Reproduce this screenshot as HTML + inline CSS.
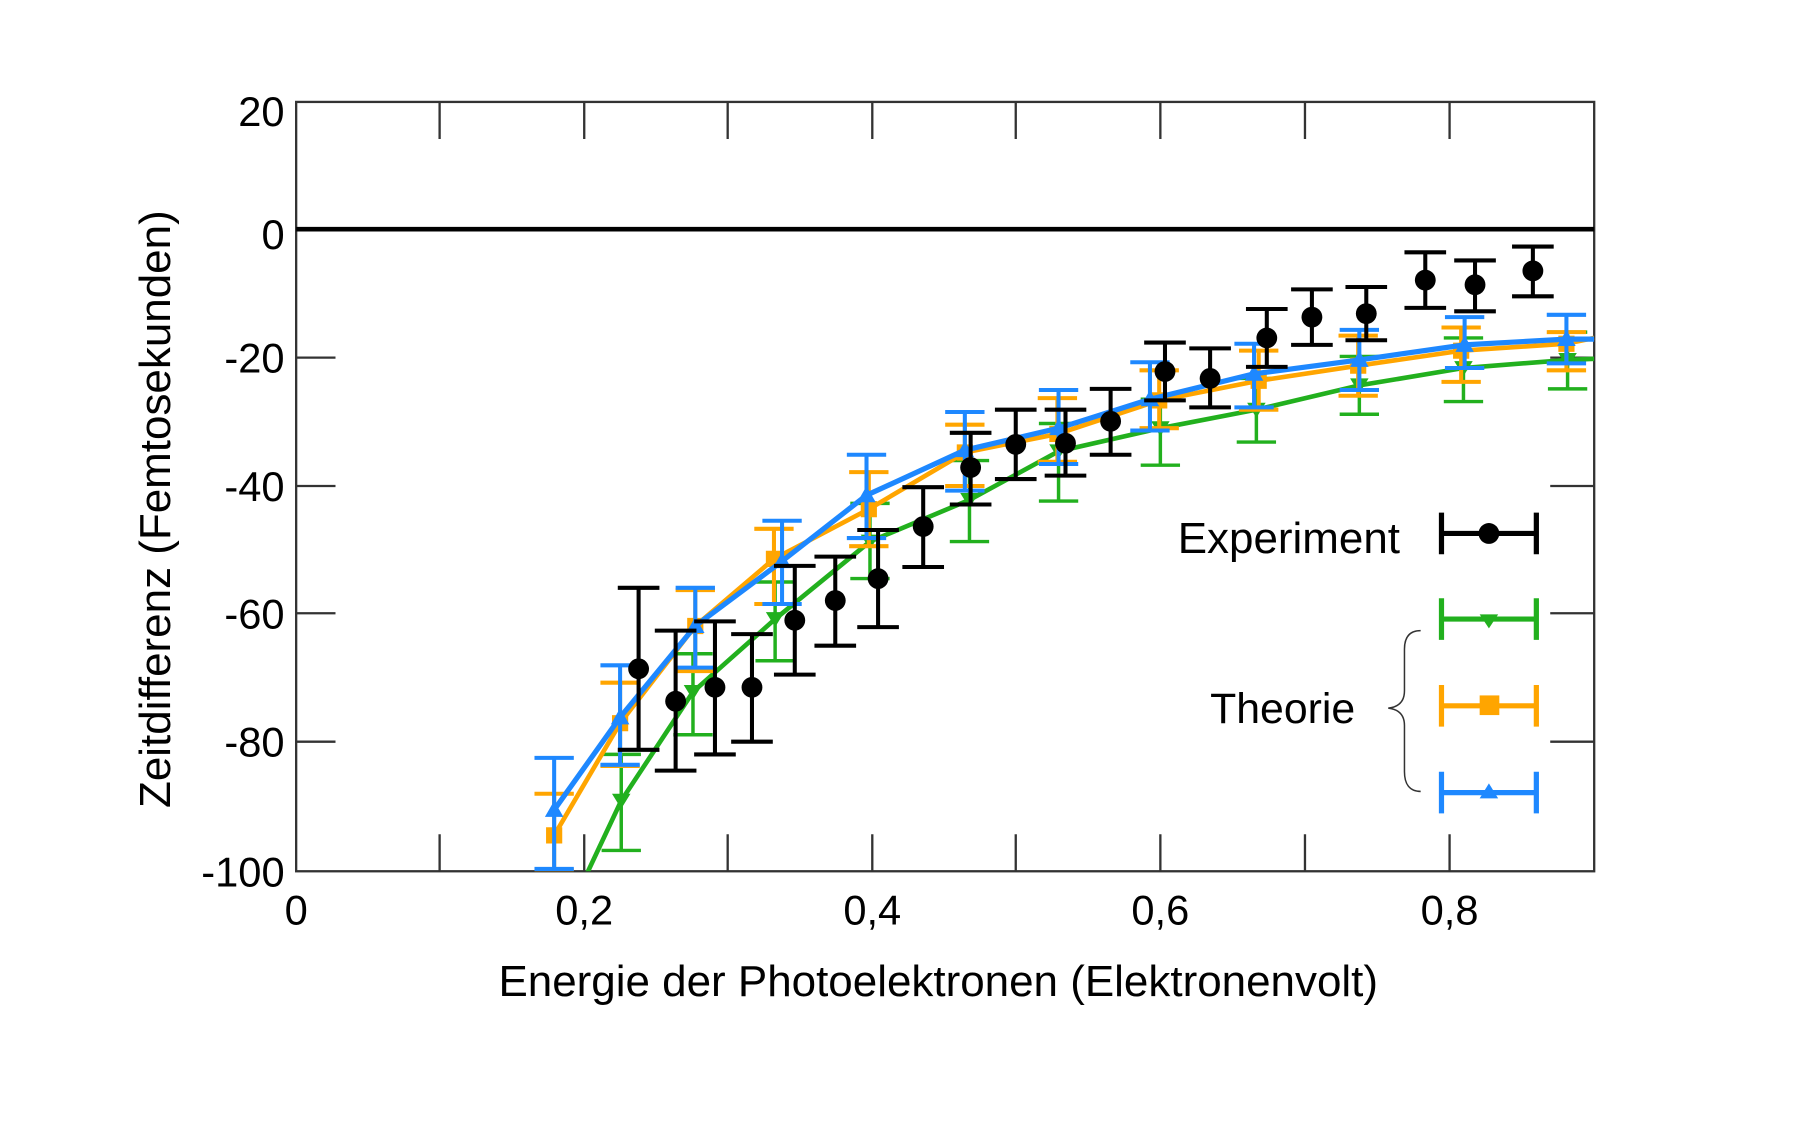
<!DOCTYPE html>
<html><head><meta charset="utf-8"><style>html,body{margin:0;padding:0;background:#fff}svg{display:block}text{font-family:"Liberation Sans",sans-serif;fill:#000}</style></head>
<body>
<svg width="1814" height="1134" viewBox="0 0 1568 980" xmlns="http://www.w3.org/2000/svg">
<defs><clipPath id="c"><rect x="256" y="88" width="1122" height="665"/></clipPath></defs>
<rect width="1568" height="980" fill="#fff"/>
<rect x="256" y="88" width="1122" height="665" fill="none" stroke="#333" stroke-width="2"/>
<g stroke="#333" stroke-width="2">
<path d="M380 88v32M505 88v32M629 88v32M754 88v32M878 88v32M1003 88v32M1128 88v32M1253 88v32"/>
<path d="M380 753v-32M505 753v-32M629 753v-32M754 753v-32M878 753v-32M1003 753v-32M1128 753v-32M1253 753v-32"/>
<path d="M256 309h34M256 420h34M256 530h34M256 641h34M1378 309h-38M1378 420h-38M1378 530h-38M1378 641h-38"/>
</g>
<line x1="256" y1="198" x2="1378" y2="198" stroke="#000" stroke-width="4"/>
<g font-size="36" text-anchor="end">
<text x="246" y="109">20</text><text x="246" y="215">0</text><text x="246" y="322">-20</text><text x="246" y="433">-40</text><text x="246" y="543">-60</text><text x="246" y="654">-80</text><text x="246" y="766">-100</text>
</g>
<g font-size="36" text-anchor="middle">
<text x="256" y="799">0</text><text x="505" y="799">0,2</text><text x="754" y="799">0,4</text><text x="1003" y="799">0,6</text><text x="1253" y="799">0,8</text>
</g>
<text x="811" y="861" font-size="38" text-anchor="middle">Energie der Photoelektronen (Elektronenvolt)</text>
<text transform="translate(147,440) rotate(-90)" font-size="38" text-anchor="middle">Zeitdifferenz (Femtosekunden)</text>
<g clip-path="url(#c)">
<g stroke="#22b01e" stroke-width="3" fill="none">
<polyline stroke-width="4" points="505,760 537,692 599,598 670,535 752,468 838,432 915,390 1003,370 1086,354 1175,333 1265,318 1355,311 1378,310"/>
<path d="M537 652v83M520 652h34M520 735h34 M599 565v70M582 565h34M582 635h34 M670 503v68M653 503h34M653 571h34 M752 435v65M735 435h34M735 500h34 M838 398v70M821 398h34M821 468h34 M915 366v67M898 366h34M898 433h34 M1003 345v57M986 345h34M986 402h34 M1086 327v55M1069 327h34M1069 382h34 M1175 308v50M1158 308h34M1158 358h34 M1265 292v55M1248 292h34M1248 347h34 M1355 287v49M1338 287h34M1338 336h34"/>
</g>
<g fill="#22b01e">
<path d="M529 686h16l-8 13z M591 592h16l-8 13z M662 529h16l-8 13z M744 462h16l-8 13z M830 426h16l-8 13z M907 384h16l-8 13z M995 364h16l-8 13z M1078 348h16l-8 13z M1167 327h16l-8 13z M1257 312h16l-8 13z M1347 305h16l-8 13z"/>
</g>
<g stroke="#ffa500" stroke-width="3.5" fill="none">
<polyline stroke-width="4" points="479,722 536,625 601,541 669,483 751,440 834,391 914,375 1002,346 1088,329 1174,316 1263,303 1354,297 1378,292"/>
<path d="M479 686v66M462 686h34M462 752h34 M536 590v72M519 590h34M519 662h34 M601 510v70M584 510h34M584 580h34 M669 457v65M652 457h34M652 522h34 M751 408v64M734 408h34M734 472h34 M834 367v53M817 367h34M817 420h34 M914 344v55M897 344h34M897 399h34 M1002 320v50M985 320h34M985 370h34 M1088 303v51M1071 303h34M1071 354h34 M1174 290v52M1157 290h34M1157 342h34 M1263 283v47M1246 283h34M1246 330h34 M1354 287v33M1337 287h34M1337 320h34"/>
</g>
<g fill="#ffa500">
<path d="M472 715h14v14h-14z M529 618h14v14h-14z M594 534h14v14h-14z M662 476h14v14h-14z M744 433h14v14h-14z M827 384h14v14h-14z M907 368h14v14h-14z M995 339h14v14h-14z M1081 322h14v14h-14z M1167 309h14v14h-14z M1256 296h14v14h-14z M1347 290h14v14h-14z"/>
</g>
<g stroke="#1e88ff" stroke-width="3.5" fill="none">
<polyline stroke-width="4.5" points="479,700 536,620 601,541 676,485 749,428 834,389 915,370 994,345 1084,323 1175,311 1266,298 1354,293 1378,293"/>
<path d="M479 655v97M462 655h34M462 751h34 M536 575v86M519 575h34M519 661h34 M601 508v69M584 508h34M584 577h34 M676 450v72M659 450h34M659 522h34 M749 393v72M732 393h34M732 465h34 M834 356v68M817 356h34M817 424h34 M915 337v64M898 337h34M898 401h34 M994 313v59M977 313h34M977 372h34 M1084 297v55M1067 297h34M1067 352h34 M1175 285v52M1158 285h34M1158 337h34 M1266 274v44M1249 274h34M1249 318h34 M1354 272v42M1337 272h34M1337 314h34"/>
</g>
<g fill="#1e88ff">
<path d="M471 706h16l-8 -14z M528 626h16l-8 -14z M593 547h16l-8 -14z M668 491h16l-8 -14z M741 434h16l-8 -14z M826 395h16l-8 -14z M907 376h16l-8 -14z M986 351h16l-8 -14z M1076 329h16l-8 -14z M1167 317h16l-8 -14z M1258 304h16l-8 -14z M1346 299h16l-8 -14z"/>
</g>
<g stroke="#000" stroke-width="3.5" fill="none">
<path d="M552 508v140M534 508h36M534 648h36 M584 545v121M566 545h36M566 666h36 M618 537v115M600 537h36M600 652h36 M650 548v93M632 548h36M632 641h36 M687 489v94M669 489h36M669 583h36 M722 481v77M704 481h36M704 558h36 M759 458v84M741 458h36M741 542h36 M798 421v69M780 421h36M780 490h36 M839 374v62M821 374h36M821 436h36 M878 354v60M860 354h36M860 414h36 M921 354v57M903 354h36M903 411h36 M960 336v57M942 336h36M942 393h36 M1007 296v50M989 296h36M989 346h36 M1046 301v51M1028 301h36M1028 352h36 M1095 267v50M1077 267h36M1077 317h36 M1134 250v48M1116 250h36M1116 298h36 M1181 248v46M1163 248h36M1163 294h36 M1232 218v48M1214 218h36M1214 266h36 M1275 225v44M1257 225h36M1257 269h36 M1325 213v43M1307 213h36M1307 256h36"/>
</g>
<g fill="#000">
<circle cx="552" cy="578" r="9"/><circle cx="584" cy="606" r="9"/><circle cx="618" cy="594" r="9"/><circle cx="650" cy="594" r="9"/><circle cx="687" cy="536" r="9"/><circle cx="722" cy="519" r="9"/><circle cx="759" cy="500" r="9"/><circle cx="798" cy="455" r="9"/><circle cx="839" cy="404" r="9"/><circle cx="878" cy="384" r="9"/><circle cx="921" cy="383" r="9"/><circle cx="960" cy="364" r="9"/><circle cx="1007" cy="321" r="9"/><circle cx="1046" cy="327" r="9"/><circle cx="1095" cy="292" r="9"/><circle cx="1134" cy="274" r="9"/><circle cx="1181" cy="271" r="9"/><circle cx="1232" cy="242" r="9"/><circle cx="1275" cy="246" r="9"/><circle cx="1325" cy="234" r="9"/>
</g>
</g>
<text x="1018" y="478" font-size="38">Experiment</text>
<text x="1046" y="625" font-size="37">Theorie</text>
<path d="M1228 545c-10 0-14 6-14 16v36c0 9-5 14-14 15c9 1 14 6 14 15v40c0 10 4 17 14 17" fill="none" stroke="#333" stroke-width="1.3"/>
<g stroke-width="4.5" fill="none">
<path stroke="#000" d="M1246 461h82M1246 443v36M1328 443v36"/>
<path stroke="#22b01e" d="M1246 535h82M1246 517v36M1328 517v36"/>
<path stroke="#ffa500" d="M1246 610h82M1246 592v36M1328 592v36"/>
<path stroke="#1e88ff" d="M1246 685h82M1246 667v36M1328 667v36"/>
</g>
<circle cx="1287" cy="461" r="9"/>
<path d="M1279 531h16l-8 12z" fill="#22b01e"/>
<rect x="1279" y="601" width="17" height="17" fill="#ffa500"/>
<path d="M1279 690h16l-8 -13z" fill="#1e88ff"/>
</svg>
</body></html>
